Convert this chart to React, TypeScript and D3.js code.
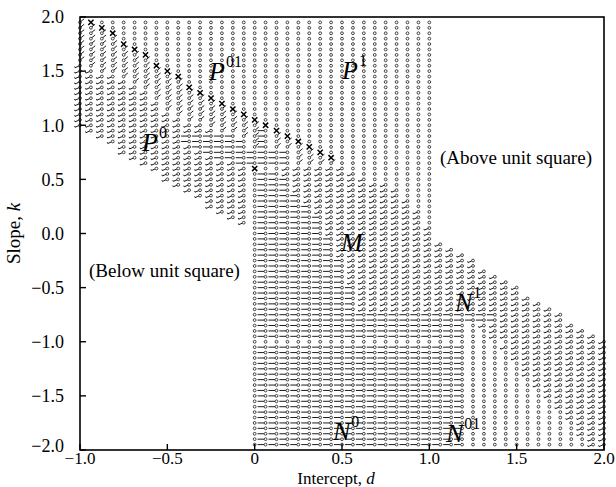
import React from 'react';
import * as d3 from 'd3';

// axis ticks
const dTicks = [-1, -0.5, 0, 0.5, 1, 1.5, 2];
const dTickLabels = ['\u22121.0', '\u22120.5', '0', '0.5', '1.0', '1.5', '2.0'];
const kTicks = [2, 1.5, 1, 0.5, 0, -0.5, -1, -1.5, -2];
const kTickLabels = ['2.0', '1.5', '1.0', '0.5', '0.0', '\u22120.5', '\u22121.0', '\u22121.5', '\u22122.0'];

// parameter sweep grid (intercept step 1/16, slope step 0.05)
const dGrid = d3.range(0, 49).map(i => -1 + i * 0.0625);
const kGrid = d3.range(-39, 40).map(i => i * 0.05);

// crosses [d, k]
const crossPoints: [number, number][] = [
  [-0.9375, 1.95], [-0.875, 1.9], [-0.8125, 1.85], [-0.75, 1.75], [-0.6875, 1.7],
  [-0.625, 1.65], [-0.5625, 1.55], [-0.5, 1.5], [-0.4375, 1.45], [-0.375, 1.35],
  [-0.3125, 1.3], [-0.25, 1.25], [-0.1875, 1.2], [-0.125, 1.15], [-0.0625, 1.1],
  [0, 1.05], [0.0625, 1.0], [0.125, 0.95], [0.1875, 0.9], [0.25, 0.85],
  [0.3125, 0.8], [0.375, 0.75], [0.4375, 0.7],
];
const extraCross: [number, number][] = [[0, 0.6]];

// glyph regions (d, k outlines)
const hPatchP0: [number, number][] = [[-0.38, 0.93], [-0.17, 0.93], [-0.03, 0.84], [-0.03, 0.68], [-0.17, 0.68], [-0.42, 0.84]];
const hPatchTop: [number, number][] = [[-0.07, 0.76], [0.03, 0.76], [0.03, 0.98], [0.1, 0.98], [0.1, 0.76], [0.2, 0.76], [0.2, 0.64], [-0.07, 0.64]];
const hMain: [number, number][] = [
  [0.03, 0.58], [0.15, 0.58], [0.24, 0.4], [0.37, 0.17], [0.46, -0.1], [0.55, -0.4], [0.6, -0.72],
  [1.4, -0.72], [1.4, -0.83], [1.2, -0.83], [1.2, -2.05], [0.03, -2.05],
];
const neLower: [number, number][] = [
  [0.47, 0.65], [0.47, 0.63], [0.0, 0.63], [-0.1, 0.9], [-0.35, 1.02], [-0.5, 1.15], [-0.65, 1.37], [-1.05, 1.58],
];
const hookP0: [number, number][] = [
  [-1.05, 1.58], [-0.65, 1.37], [-0.5, 1.15], [-0.35, 1.02], [-0.1, 0.9], [-0.03, 0.85], [-0.03, -0.1], [-1.05, -0.1],
];
const hookMN: [number, number][] = [
  [0.15, 0.63], [0.47, 0.63], [0.6, 0.55], [0.82, 0.41], [0.95, 0.2], [1.03, 0.02], [2.05, -0.95],
  [2.05, -2.05], [1.97, -2.05], [1.9, -1.9], [1.7, -1.55], [1.5, -1.2], [1.3, -0.85], [1.25, -0.72],
  [0.6, -0.72], [0.55, -0.4], [0.46, -0.1], [0.37, 0.17], [0.24, 0.4],
];
const plainRowK = -1;

type Glyph = 'o' | 'ne' | 'hook' | 'h' | 'x';

const nePoly: [number, number][] = [
  [-1.05, 2.05], [-0.96, 2.05],
  ...crossPoints.map(([d, k]) => [d, k - 0.025] as [number, number]),
  ...neLower,
];

const key = (d: number, k: number) => `${d.toFixed(4)}|${k.toFixed(2)}`;
const crossSet = new Set([...crossPoints, ...extraCross].map(([d, k]) => key(d, k)));

function classify(d: number, k: number): Glyph | null {
  if (d < 0 && d + k < -1e-9) return null; // below unit square
  if (d > 1 && d + k > 1 + 1e-9) return null; // above unit square
  if (crossSet.has(key(d, k))) return 'x';
  const p: [number, number] = [d, k];
  let g: Glyph = 'o';
  if (d3.polygonContains(hPatchP0, p) || d3.polygonContains(hPatchTop, p) || d3.polygonContains(hMain, p)) g = 'h';
  else if (d3.polygonContains(nePoly, p)) g = 'ne';
  else if (d3.polygonContains(hookP0, p) || d3.polygonContains(hookMN, p)) g = 'hook';
  if (Math.abs(k - plainRowK) < 1e-6 && d > 0.01 && d < 1.5) g = 'o';
  return g;
}

export default function App() {
  const width = 616;
  const height = 487;
  const x = d3.scaleLinear().domain([-1, 2]).range([80, 604]);
  const y = d3.scaleLinear().domain([-2, 2]).range([450, 17]);

  const r = 1.4;
  let circles = '';
  let tails = '';
  let crosses = '';
  dGrid.forEach(d => {
    kGrid.forEach(k => {
      const g = classify(d, k);
      if (!g) return;
      const px = x(d);
      const py = y(k);
      if (g === 'x') {
        const s = 2.6;
        crosses += `M${px - s},${py - s}L${px + s},${py + s}M${px - s},${py + s}L${px + s},${py - s}`;
        return;
      }
      circles += `M${px + r},${py}a${r},${r} 0 1,0 ${-2 * r},0a${r},${r} 0 1,0 ${2 * r},0`;
      if (g === 'ne') tails += `M${px + 1},${py - 1}L${px + 4.2},${py - 3.6}`;
      if (g === 'hook') tails += `M${px - 1.2},${py + 0.4}L${px - 5},${py + 2}L${px - 5.4},${py + 0.8}`;
      if (g === 'h') tails += `M${px - 8},${py}L${px - r},${py}`;
    });
  });

  const serif = '"Liberation Serif", "DejaVu Serif", serif';
  const regionLabel = (lx: number, ly: number, main: string, sup?: string) => (
    <text x={lx} y={ly} fontFamily={serif} fontStyle="italic" fontSize={26} fill="#000">
      {main}
      {sup && (
        <tspan fontStyle="normal" fontSize={16} dy={-13} dx={1}>{sup}</tspan>
      )}
    </text>
  );

  return (
    <svg width={width} height={height} style={{ position: 'absolute', left: 0, top: 0, background: '#fff' }}>
      <rect width={width} height={height} fill="#fff" />
      <path d={tails} stroke="#111" strokeWidth={0.95} fill="none" />
      <path d={circles} stroke="#222" strokeWidth={0.85} fill="#fff" />
      <path d={crosses} stroke="#000" strokeWidth={1.5} fill="none" />

      {/* frame */}
      <rect x={x(-1)} y={y(2)} width={x(2) - x(-1)} height={y(-2) - y(2)} fill="none" stroke="#000" strokeWidth={1.6} />
      {dTicks.map(t => (
        <line key={`xt${t}`} x1={x(t)} x2={x(t)} y1={y(-2)} y2={y(-2) - 6} stroke="#000" strokeWidth={1.4} />
      ))}
      {kTicks.map(t => (
        <line key={`yt${t}`} x1={x(-1)} x2={x(-1) + 6} y1={y(t)} y2={y(t)} stroke="#000" strokeWidth={1.4} />
      ))}
      {dTicks.map((t, i) => (
        <text key={`xl${t}`} x={x(t)} y={y(-2) + 14} textAnchor="middle" fontFamily={serif} fontSize={17}>
          {dTickLabels[i]}
        </text>
      ))}
      {kTicks.map((t, i) => (
        <text key={`yl${t}`} x={64} y={t === -2 ? y(t) - 4 : y(t)} dy="0.35em" textAnchor="end" fontFamily={serif} fontSize={18}>
          {kTickLabels[i]}
        </text>
      ))}
      <text x={x(0.5) - 6} y={484} textAnchor="middle" fontFamily={serif} fontSize={17}>
        Intercept, <tspan fontStyle="italic">d</tspan>
      </text>
      <text transform={`translate(20,${y(0)}) rotate(-90)`} textAnchor="middle" fontFamily={serif} fontSize={19}>
        Slope, <tspan fontStyle="italic">k</tspan>
      </text>

      {regionLabel(209, 80, 'P', '01')}
      {regionLabel(342, 79, 'P', '1')}
      {regionLabel(142, 151, 'P', '0')}
      {regionLabel(341, 251, 'M')}
      {regionLabel(455, 311, 'N', '1')}
      {regionLabel(333, 440, 'N', '0')}
      {regionLabel(446, 442, 'N', '01')}

      <text x={440} y={164} fontFamily={serif} fontSize={19}>(Above unit square)</text>
      <text x={89} y={277} fontFamily={serif} fontSize={19}>(Below unit square)</text>
    </svg>
  );
}
